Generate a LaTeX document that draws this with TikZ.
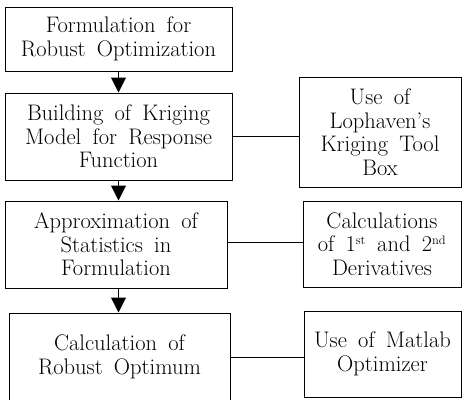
\documentclass[tikz,border=0pt]{standalone}
\usetikzlibrary{arrows.meta}
\newcommand{\boxfont}{\fontsize{22.5}{23.5}\selectfont\spaceskip 0.5em plus 0.1em\relax}
\begin{document}
\begin{tikzpicture}[x=1pt,y=-1pt]
            \tikzstyle{main box}=[draw,line width=1pt,inner sep=0pt,align=center,font=\boxfont]
            \tikzstyle{side box}=[draw,line width=1pt,inner sep=0pt,align=center,font=\boxfont]
            \tikzstyle{flow}=[line width=1pt,-{Triangle[length=15pt,width=15pt]}]
            \tikzstyle{link}=[line width=0.8pt]

            \useasboundingbox (0,0) rectangle (462,399);

            % main column
            \node(f1)[main box,minimum width=227pt,minimum height=64pt] at (118.5,39)
            {Formulation for\\Robust Optimization};
            \node(f2)[main box,minimum width=227pt,minimum height=87pt] at (118.5,136.5)
            {Building of Kriging\\Model for Response\\Function};
            \node(f3)[main box,minimum width=222pt,minimum height=87pt] at (116,244.5)
            {Approximation of\\Statistics in\\Formulation};
            \node(f4)[main box,minimum width=221pt,minimum height=88pt] at (119.5,357)
            {Calculation of\\Robust Optimum};

            % side boxes
            \node(s2)[side box,minimum width=162pt,minimum height=110pt] at (380,132)
            {Use of\\Lophaven’s\\Kriging Tool\\Box};
            \node(s3)[side box,minimum width=158pt,minimum height=86pt] at (382,244)
            {Calculations\\of 1\textsuperscript{\fontsize{12.5}{12.5}\selectfont st} and 2\textsuperscript{\fontsize{12.5}{12.5}\selectfont nd}\\Derivatives};
            \node(s4)[side box,minimum width=157pt,minimum height=86pt] at (382.5,354)
            {Use of Matlab\\Optimizer};

            \draw[flow] (f1.south -| f1) -- (f2.north -| f1);
            \draw[flow] (f2.south -| f1) -- (f3.north -| f1);
            \draw[flow] (f3.south -| f1) -- (f4.north -| f1);

            \draw[link] (f2.east) -- (f2.east -| s2.west);
            \draw[link] ([yshift=2.5]f3.east) -- ([yshift=2.5]f3.east -| s3.west);
            \draw[link] (f4.east) -- (f4.east -| s4.west);
        \end{tikzpicture}
\end{document}
